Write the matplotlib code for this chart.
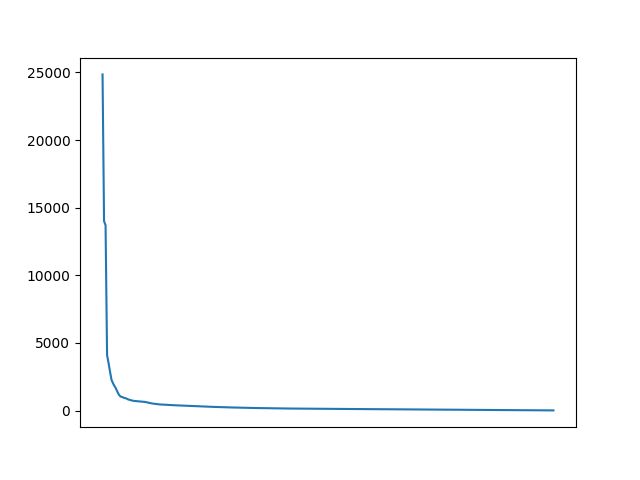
import matplotlib
matplotlib.use("Agg")
import matplotlib.pyplot as plt
import numpy as np

head_values = [24850, 14000, 13700, 4100, 3500, 2850, 2250, 2000, 1800, 1600,
               1350, 1150, 1030, 1000, 950, 920, 880, 820, 790, 760,
               730, 710, 700, 690, 680, 675, 665, 655, 640, 620,
               590, 565, 540, 520, 505, 490, 478, 465, 452, 445,
               438, 430, 424, 418, 412, 406, 400, 395, 390, 385, 380]

mid_values = [376, 370, 365, 360, 354, 348, 343, 337, 332, 326, 320, 315, 310, 305, 300,
              296, 292, 289, 285, 282, 278, 275, 271, 268, 264, 260, 257, 253, 250, 246,
              243, 239, 236, 232, 229,
              226, 224, 221, 219, 216, 214, 211, 209, 206, 204, 201, 199, 196, 194, 191,
              189, 187, 184, 182, 179, 177,
              175, 173, 171, 169, 167, 165, 163, 162, 160, 158, 157, 155,
              154, 153, 152, 151, 150, 149, 148, 147, 146, 145, 144, 143,
              142, 141, 140, 139, 138, 137, 136, 135, 134, 133, 132, 131,
              130, 129, 128, 127, 126, 126, 125, 124, 123, 123, 122, 121,
              120, 120, 119, 118, 118, 117, 116, 116, 115, 114, 114, 113, 112, 112, 111, 110]

tail_values = [109, 108, 108, 107, 106, 105, 105, 104, 103, 102, 102, 101,
               100, 99, 99, 98, 97, 96, 96, 95, 94, 93, 93, 92,
               91, 90, 90, 89, 88, 87, 86, 86, 85, 84, 83, 83,
               82, 81, 80, 79, 79, 78, 77, 76, 76, 75, 74, 73,
               72, 72, 71, 70, 69, 69, 68, 67, 66, 65, 65, 64,
               63, 62, 62, 61, 60, 59, 58, 58, 57, 56, 55, 55,
               54, 53, 52, 51, 51, 50, 49, 48, 48, 47, 46, 45,
               44, 44, 43, 42, 41, 41, 40, 39, 38, 37, 37, 36,
               35, 34, 34, 33, 32, 31, 30, 30, 29, 28, 27, 27,
               26, 25, 24, 23, 23, 22, 21, 20, 20, 19, 18, 17,
               17, 16, 15, 15, 14, 13, 12, 12, 11]

values = head_values + mid_values + tail_values
print(len(values))

fig, ax = plt.subplots(figsize=(6.4, 4.8), dpi=100)
ax.plot(np.arange(len(values)), values)
ax.set_xticks([])
fig.savefig("out.png", dpi=100)
